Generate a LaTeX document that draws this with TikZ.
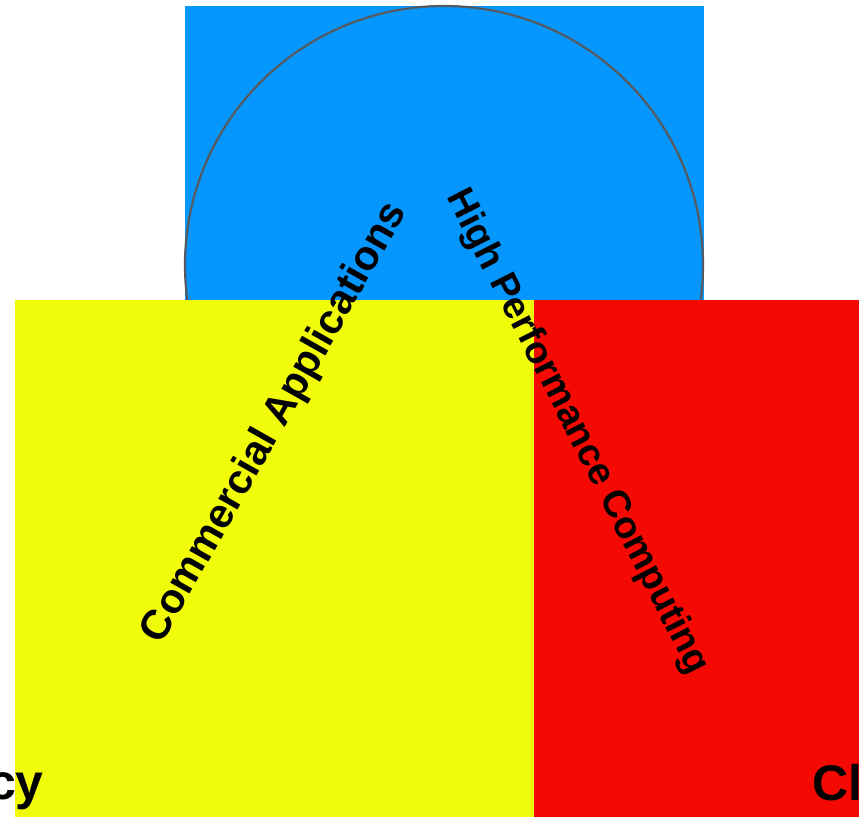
\documentclass[tikz,border=0pt]{standalone}
\usepackage{fontspec}
\setmainfont{Liberation Sans}
\definecolor{cblue}{HTML}{0597FE}
\definecolor{cyellow}{HTML}{F0FC0A}
\definecolor{cred}{HTML}{F40A02}
\definecolor{cgrey}{HTML}{555A60}
\begin{document}
\begin{tikzpicture}[x=1pt,y=-1pt,
  lbl/.style={font=\fontsize{38}{40}\selectfont\bfseries, inner sep=0pt},
  big/.style={font=\fontsize{50}{52}\selectfont\bfseries, inner sep=0pt}]
\useasboundingbox (0,0) rectangle (859,817);
\fill[cblue] (185,6) rectangle (704,300);
\draw[cgrey, line width=2.2pt] (444,265) circle[radius=259];
\fill[cyellow] (15,300) rectangle (534,817);
\fill[cred] (534,300) rectangle (859,817);
\node[lbl, font=\fontsize{41.5}{44}\selectfont\bfseries, rotate=60.5] (ca) at (275,423) {Commercial Applications};
\node[lbl, rotate=-63] (hpc) at (577,432) {High Performance Computing};
\node[big, anchor=base east] (left) at (44,799) {cy};
\node[big, anchor=base west] (right) at (812,800) {Cl};
\end{tikzpicture}
\end{document}
